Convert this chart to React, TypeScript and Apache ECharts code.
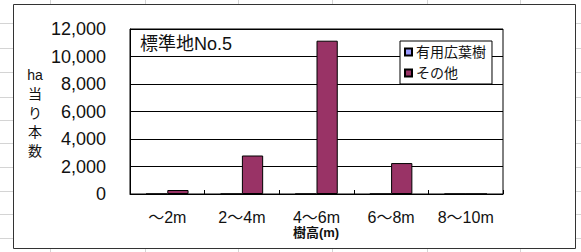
import React, { useEffect, useRef } from "react";
import * as echarts from "echarts";

const categories = ["～2m", "2～4m", "4～6m", "6～8m", "8～10m"];
const usefulBroadleaf = [0, 0, 0, 0, 0];
const others = [290, 2800, 11150, 2250, 0];
const yTicks = { min: 0, max: 12000, interval: 2000 };
const seriesNames = ["有用広葉樹", "その他"];
const titleText = "標準地No.5";
const yName = ["ha", "当", "り", "本", "数"];
const xName = "樹高(m)";

const sheetRows = [23, 48, 72, 97, 120, 143, 167, 191, 214, 238];
const sheetCols = [50, 145, 238, 332, 427, 520];

const FONT = "'Liberation Sans', 'Noto Sans CJK JP', sans-serif";

export default function App() {
  const ref = useRef<HTMLDivElement>(null);
  useEffect(() => {
    if (!ref.current) return;
    const chart = echarts.init(ref.current, undefined, { renderer: "svg" });
    const graphics: any[] = [];
    sheetRows.forEach((y) =>
      graphics.push({ type: "line", z: -20, shape: { x1: 0, y1: y + 0.5, x2: 581, y2: y + 0.5 }, style: { stroke: "#d4d4d4", lineWidth: 1 } })
    );
    sheetCols.forEach((x) =>
      graphics.push({ type: "line", z: -20, shape: { x1: x + 0.5, y1: 0, x2: x + 0.5, y2: 252 }, style: { stroke: "#d4d4d4", lineWidth: 1 } })
    );
    graphics.push({
      type: "rect",
      z: -10,
      shape: { x: 13.5, y: 4.5, width: 562, height: 244 },
      style: { fill: "#fff", stroke: "#333", lineWidth: 1 },
    });
    graphics.push({
      type: "text",
      z: 10,
      x: 140,
      y: 44,
      style: { text: titleText, fontSize: 18, fontFamily: FONT, fill: "#111", textVerticalAlign: "middle" },
    });
    graphics.push({
      type: "text",
      z: 10,
      x: 35,
      y: 65,
      style: {
        text: yName.join("\n"),
        fontSize: 14,
        lineHeight: 19,
        fontFamily: FONT,
        fill: "#111",
        textAlign: "center",
      },
    });
    graphics.push({
      type: "text",
      z: 10,
      x: 316,
      y: 232,
      style: {
        text: xName,
        fontSize: 13,
        fontWeight: "bold",
        fontFamily: FONT,
        fill: "#111",
        textAlign: "center",
        textVerticalAlign: "middle",
      },
    });

    chart.setOption({
      animation: false,
      backgroundColor: "#fff",
      textStyle: { fontFamily: FONT },
      graphic: graphics,
      grid: {
        left: 130,
        top: 29,
        right: 78,
        bottom: 58,
        show: true,
        borderColor: "#000",
        borderWidth: 1,
        backgroundColor: "transparent",
        containLabel: false,
      },
      legend: {
        orient: "vertical",
        left: 400,
        top: 41,
        padding: [4, 6, 4, 4],
        itemGap: 7,
        itemWidth: 7,
        itemHeight: 7,
        icon: "rect",
        backgroundColor: "#fff",
        borderColor: "#000",
        borderWidth: 1,
        textStyle: { fontSize: 14, color: "#111", fontFamily: FONT, padding: [0, 0, 0, -1] },
        data: seriesNames,
        z: 10,
      },
      xAxis: {
        type: "category",
        data: categories,
        axisLine: { lineStyle: { color: "#000" } },
        axisTick: { show: true, inside: true, length: 4, lineStyle: { color: "#000" } },
        axisLabel: { fontSize: 16, color: "#111", margin: 15, fontFamily: FONT },
        splitLine: { show: false },
      },
      yAxis: {
        type: "value",
        min: yTicks.min,
        max: yTicks.max,
        interval: yTicks.interval,
        axisLine: { show: true, lineStyle: { color: "#000" } },
        axisTick: { show: false },
        axisLabel: {
          fontSize: 18,
          color: "#111",
          margin: 24,
          fontFamily: FONT,
          formatter: (v: number) => v.toLocaleString("en-US"),
        },
        splitLine: { show: true, lineStyle: { color: "#000", width: 1 } },
      },
      series: [
        {
          name: seriesNames[0],
          type: "bar",
          data: usefulBroadleaf,
          barGap: "0%",
          barCategoryGap: "43%",
          itemStyle: { color: "#9999FF", borderColor: "#000", borderWidth: 1 },
        },
        {
          name: seriesNames[1],
          type: "bar",
          data: others,
          barGap: "0%",
          barCategoryGap: "43%",
          itemStyle: { color: "#993366", borderColor: "#000", borderWidth: 1 },
        },
      ],
    });
    return () => chart.dispose();
  }, []);
  return (
    <div
      ref={ref}
      style={{ position: "absolute", left: 0, top: 0, width: 581, height: 252 }}
    />
  );
}
